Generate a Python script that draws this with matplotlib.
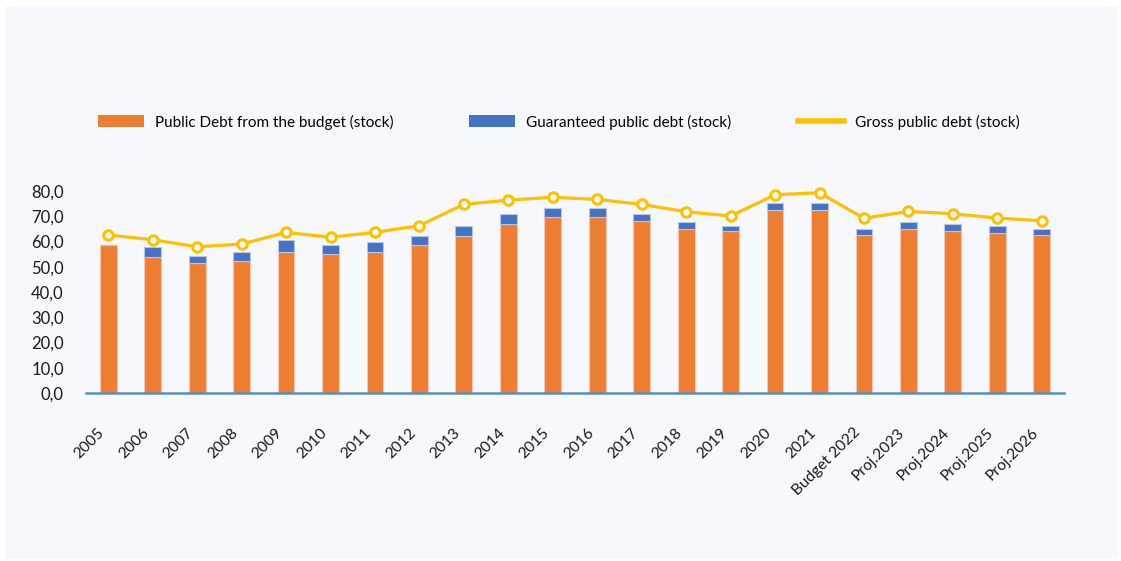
import matplotlib
matplotlib.use("Agg")
import matplotlib.pyplot as plt
from matplotlib.patches import Rectangle, Patch
from matplotlib.lines import Line2D
import matplotlib.transforms as mtransforms
import numpy as np

plt.rcParams['font.family'] = ['Lato', 'DejaVu Sans']

# Categories and series (percent of GDP)
years = ['2005', '2006', '2007', '2008', '2009', '2010', '2011', '2012', '2013',
         '2014', '2015', '2016', '2017', '2018', '2019', '2020', '2021',
         'Budget 2022', 'Proj.2023', 'Proj.2024', 'Proj.2025', 'Proj.2026']
budget_debt = [58.6, 54.0, 51.3, 52.3, 55.8, 54.9, 55.8, 58.6, 62.3, 67.1, 69.7,
               69.7, 68.0, 65.1, 64.2, 72.5, 72.5, 62.4, 65.1, 64.2, 63.4, 62.4]
guaranteed_debt = [0.0, 3.7, 2.8, 3.5, 4.7, 3.7, 3.9, 3.7, 3.7, 3.7, 3.7,
                   3.7, 2.8, 2.7, 1.8, 2.7, 2.7, 2.7, 2.7, 2.7, 2.6, 2.7]
gross_debt = [62.6, 60.7, 57.9, 59.0, 63.6, 61.7, 63.6, 66.3, 74.7, 76.4, 77.5,
              76.7, 74.7, 71.8, 70.1, 78.5, 79.3, 69.2, 71.9, 71.0, 69.3, 68.2]
y_ticks = [0, 10, 20, 30, 40, 50, 60, 70, 80]

orange = '#ed7d31'
blue = '#4472c4'
yellow = '#ffc000'
panel = '#f7f8fc'

fig = plt.figure(figsize=(11.21, 5.61), dpi=100, facecolor='white')
# light panel behind the chart
fig.patches.append(Rectangle((5 / 1121, 2 / 561), 1113 / 1121, 553 / 561,
                             transform=fig.transFigure, facecolor=panel,
                             edgecolor='none', zorder=-1))

ax = fig.add_axes([86 / 1121, 1 - 393 / 561, 978 / 1121, 202 / 561])
ax.set_facecolor(panel)

x = np.arange(len(years))
w = 0.38
ax.bar(x, budget_debt, w, color=orange, edgecolor='#f3c9ad', linewidth=0.8, zorder=2)
ax.bar(x, guaranteed_debt, w, bottom=budget_debt, color=blue, edgecolor='#b7c6e6',
       linewidth=0.8, zorder=2)
ax.plot(x, gross_debt, color=yellow, linewidth=2.3, marker='o', markersize=6.8,
        markerfacecolor='white', markeredgecolor=yellow, markeredgewidth=2.2,
        zorder=3, clip_on=False)

ax.set_xlim(-0.5, len(years) - 0.5)
ax.set_ylim(0, 80)
ax.set_yticks(y_ticks)
ax.set_yticklabels([f'{v:.1f}'.replace('.', ',') for v in y_ticks], fontsize=12)
ax.set_xticks(x)
ax.set_xticklabels(years, rotation=45, ha='right', va='baseline',
                   rotation_mode='anchor', fontsize=11.2)
ax.tick_params(axis='both', length=0, colors='#1a1a1a')
ax.tick_params(axis='y', pad=16)
ax.tick_params(axis='x', pad=29)
# nudge the slanted labels a little to the left
shift = mtransforms.ScaledTranslation(-3 / 100, 0, fig.dpi_scale_trans)
for lab in ax.get_xticklabels():
    lab.set_transform(lab.get_transform() + shift)

for s in ['top', 'right', 'left']:
    ax.spines[s].set_visible(False)
ax.spines['bottom'].set_color('#5b8fc0')
ax.spines['bottom'].set_linewidth(1.8)

# legend: one entry per box so each can sit where the reference puts it
entries = [
    (Patch(facecolor=orange, edgecolor='none'), 'Public Debt from the budget (stock)', 98),
    (Patch(facecolor=blue, edgecolor='none'), 'Guaranteed public debt (stock)', 469),
    (Line2D([], [], color=yellow, linewidth=4), 'Gross public debt (stock)', 798),
]
for handle, label, xpos in entries:
    leg = fig.legend([handle], [label], loc='center left',
                     bbox_to_anchor=(xpos / 1121, 1 - 122 / 561), frameon=False,
                     fontsize=11, handlelength=3.0, handleheight=0.8,
                     handletextpad=0.75, borderpad=0, borderaxespad=0)

fig.savefig('out.png', dpi=100, facecolor='white')
